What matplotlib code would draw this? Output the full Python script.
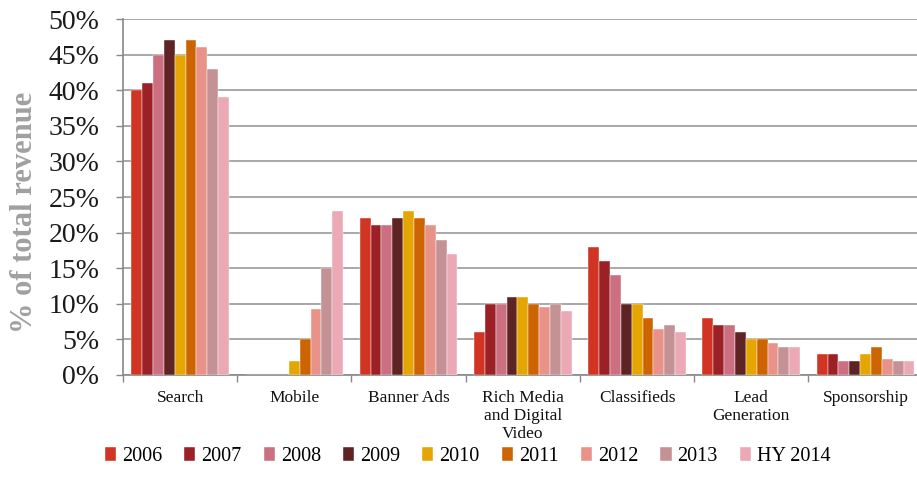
import matplotlib
import matplotlib.pyplot as plt
import numpy as np

matplotlib.use("Agg")

plt.rcParams["font.family"] = ["Liberation Serif", "DejaVu Serif"]

categories = ["Search", "Mobile", "Banner Ads", "Rich Media\nand Digital\nVideo",
              "Classifieds", "Lead\nGeneration", "Sponsorship"]
years = ["2006", "2007", "2008", "2009", "2010", "2011", "2012", "2013", "HY 2014"]

# share of total revenue (%) per year, one list per category order above
share_2006 = [40, 0, 22, 6, 18, 8, 3]
share_2007 = [41, 0, 21, 10, 16, 7, 3]
share_2008 = [45, 0, 21, 10, 14, 7, 2]
share_2009 = [47, 0, 22, 11, 10, 6, 2]
share_2010 = [45, 2, 23, 11, 10, 5, 3]
share_2011 = [47, 5, 22, 10, 8, 5, 4]
share_2012 = [46, 9.2, 21, 9.6, 6.5, 4.5, 2.2]
share_2013 = [43, 15, 19, 10, 7, 4, 2]
share_hy2014 = [39, 23, 17, 9, 6, 4, 2]

series = [share_2006, share_2007, share_2008, share_2009, share_2010,
          share_2011, share_2012, share_2013, share_hy2014]
colors = ["#D13422", "#9C2126", "#CC6F80", "#5E2323", "#E5A502",
          "#CC6402", "#E99289", "#C49194", "#EBA8B5"]

fig = plt.figure(figsize=(9.17, 4.90), dpi=100)
ax = fig.add_axes([0.1341, 0.2347, 0.8659, 0.7265])

x = np.arange(len(categories))
bar_w = 0.095
for i, (vals, col, yr) in enumerate(zip(series, colors, years)):
    offset = (i - 4) * bar_w
    ax.bar(x + offset, vals, width=bar_w, color=col, label=yr,
           edgecolor="white", linewidth=0.3, zorder=3)

ax.set_ylim(0, 50)
ax.set_xlim(-0.5, 6.45)
ax.set_yticks(np.arange(0, 51, 5))
ax.set_yticklabels([f"{v}%" for v in range(0, 51, 5)], fontsize=20, color="#1a1a1a")
ax.yaxis.grid(True, color="#A8A8A8", linewidth=1.4, zorder=0)
ax.set_axisbelow(True)

# category boundaries get the tick marks, names sit centred in between
ax.set_xticks(np.arange(0, 7) - 0.5, minor=False)
ax.set_xticklabels([])
ax.set_xticks(x, minor=True)
ax.set_xticklabels(categories, minor=True, fontsize=12.5, color="#111111",
                   linespacing=1.15, va="top")
ax.tick_params(axis="x", which="minor", length=0, pad=11)
ax.tick_params(axis="x", which="major", length=5, color="#888888", width=1)
ax.tick_params(axis="y", length=5, color="#888888", width=1, pad=12)

for side in ("top", "right"):
    ax.spines[side].set_visible(False)
for side in ("left", "bottom"):
    ax.spines[side].set_color("#888888")
    ax.spines[side].set_linewidth(1.2)

ax.set_ylabel("% of total revenue", fontsize=22, fontweight="bold",
              color="#A0A0A0", va="center")
ax.yaxis.set_label_coords(-0.124, 0.458)

fig.legend(loc="center", bbox_to_anchor=(0.51, 0.068), ncol=9, frameon=False,
           fontsize=14.5, handlelength=0.55, handleheight=0.7, handletextpad=0.3,
           columnspacing=1.1)

fig.savefig("out.png", dpi=100)
